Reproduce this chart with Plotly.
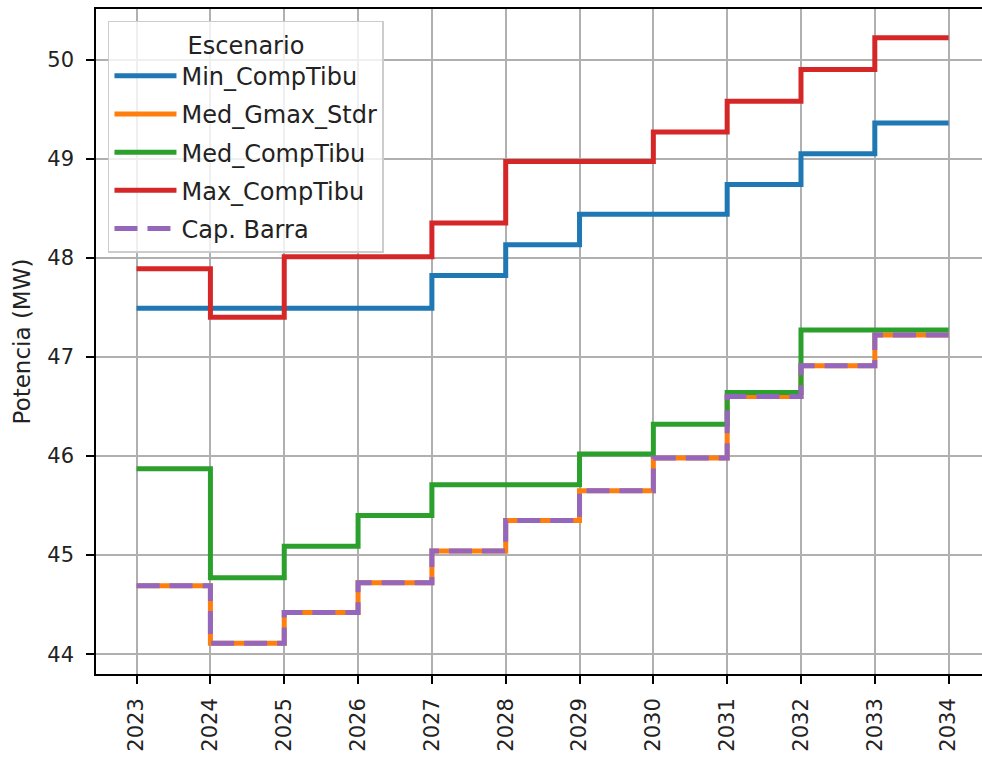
import plotly.graph_objects as go

# Years and power scenarios (MW), step plot with value held until next year
years = [2023, 2024, 2025, 2026, 2027, 2028, 2029, 2030, 2031, 2032, 2033, 2034]

min_comptibu = [47.49, 47.49, 47.49, 47.49, 47.82, 48.13, 48.44, 48.44, 48.74, 49.05, 49.36, 49.36]
med_gmax_stdr = [44.69, 44.11, 44.42, 44.72, 45.04, 45.35, 45.65, 45.98, 46.60, 46.91, 47.22, 47.22]
med_comptibu = [45.87, 44.77, 45.09, 45.40, 45.71, 45.71, 46.02, 46.32, 46.64, 47.27, 47.27, 47.27]
max_comptibu = [47.89, 47.40, 48.01, 48.01, 48.35, 48.97, 48.97, 49.27, 49.58, 49.90, 50.22, 50.22]
cap_barra = [44.69, 44.11, 44.42, 44.72, 45.04, 45.35, 45.65, 45.98, 46.60, 46.91, 47.22, 47.22]

y_ticks = [44, 45, 46, 47, 48, 49, 50]

series = [
    ("Min_CompTibu", min_comptibu, "#1f77b4", "solid"),
    ("Med_Gmax_Stdr", med_gmax_stdr, "#ff7f0e", "solid"),
    ("Med_CompTibu", med_comptibu, "#2ca02c", "solid"),
    ("Max_CompTibu", max_comptibu, "#d62728", "solid"),
    ("Cap. Barra", cap_barra, "#9467bd", "23px,10px"),
]

FONT = "DejaVu Sans"

fig = go.Figure()
for i, (name, vals, color, dash) in enumerate(series):
    fig.add_trace(go.Scatter(
        x=years, y=vals, name=name, mode="lines",
        legendgroup=f"g{i}",
        line=dict(color=color, width=5, dash=dash, shape="hv"),
    ))

axis_common = dict(
    showgrid=True, gridcolor="#b0b0b0", gridwidth=1.5,
    showline=True, linecolor="black", linewidth=1.6,
    ticks="outside", ticklen=8, tickwidth=1.6, tickcolor="black",
    tickfont=dict(family=FONT, size=21, color="#222222"),
    zeroline=False,
)

fig.update_layout(
    width=982, height=760,
    margin=dict(l=96, r=0, t=9, b=86),
    paper_bgcolor="white", plot_bgcolor="white",
    font=dict(family=FONT, color="#222222"),
    showlegend=True,
    legend=dict(
        title=dict(text="Escenario", side="top center",
                   font=dict(family=FONT, size=24, color="#222222")),
        font=dict(family=FONT, size=24, color="#222222"),
        x=0.0135, y=0.982, xanchor="left", yanchor="top",
        bgcolor="rgba(255,255,255,0.8)",
        bordercolor="#cccccc", borderwidth=1.5,
        itemwidth=62,
        traceorder="grouped", tracegroupgap=4,
    ),
    xaxis=dict(
        **axis_common,
        range=[2022.45, 2034.452],
        tickvals=years, ticktext=[str(y) for y in years],
        tickangle=-90, mirror=True, ticklabelstandoff=6,
    ),
    yaxis=dict(
        **axis_common,
        range=[43.80, 50.51],
        tickvals=y_ticks,
        ticklabelstandoff=8,
        title=dict(text="Potencia (MW)", standoff=10,
                   font=dict(family=FONT, size=23, color="#222222")),
    ),
)

fig.write_html("out.html")
